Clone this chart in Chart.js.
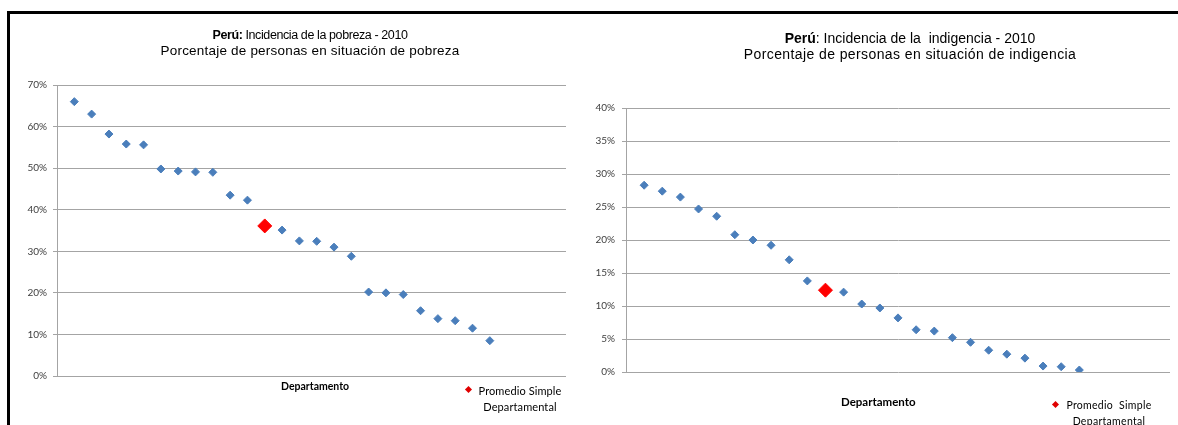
<!DOCTYPE html>
<html>
<head>
<meta charset="utf-8">
<script src="https://cdn.jsdelivr.net/npm/chart.js@4.4.1/dist/chart.umd.min.js"></script>
<style>
  html, body { margin: 0; padding: 0; background: #fff; }
  #wrap { position: relative; width: 1178px; height: 425px; overflow: hidden; background: #fff; }
  .frame-top  { position: absolute; left: 7px; top: 11px; width: 1171px; height: 3px; background: #000; }
  .frame-left { position: absolute; left: 7px; top: 11px; width: 3px; height: 414px; background: #000; }
  canvas { position: absolute; top: 0; }
  .title { position: absolute; text-align: center; font-family: 'Liberation Sans', Arial, sans-serif; color: #000; white-space: pre; }
  .axis-title { position: absolute; font-family: Lato, 'Open Sans', sans-serif; font-weight: bold; color: #000; white-space: pre; }
  .legend { position: absolute; font-family: Lato, 'Open Sans', sans-serif; color: #000; text-align: center; white-space: pre; }
  .diamond { position: absolute; width: 5px; height: 5px; background: #e00000; transform: rotate(45deg); }
</style>
</head>
<body>
<div id="wrap">
  <canvas id="chartPobreza" width="580" height="425" style="left:0;width:580px;height:425px"></canvas>
  <canvas id="chartIndigencia" width="598" height="425" style="left:580px;width:598px;height:425px"></canvas>

  <div class="frame-top"></div>
  <div class="frame-left"></div>

  <!-- títulos -->
  <div class="title" style="left:110px;width:400px;top:28px;font-size:12.5px;line-height:15px;letter-spacing:-0.4px"><b>Perú:</b> Incidencia de la pobreza - 2010</div>
  <div class="title" style="left:110px;width:400px;top:43px;font-size:13.5px;line-height:15px;letter-spacing:0.2px">Porcentaje de personas en situación de pobreza</div>
  <div class="title" style="left:710px;width:400px;top:30px;font-size:14px;line-height:16px"><b>Perú</b>: Incidencia de la  indigencia - 2010</div>
  <div class="title" style="left:710px;width:400px;top:46px;font-size:14px;line-height:16px;letter-spacing:0.4px">Porcentaje de personas en situación de indigencia</div>

  <div class="axis-title" style="left:281px;top:380px;font-size:10.5px">Departamento</div>
  <div class="axis-title" style="left:841px;top:395px;font-size:11.5px">Departamento</div>

  <div class="diamond" style="left:466px;top:387px"></div>
  <div class="legend" style="left:472px;top:383px;width:96px;font-size:11px;line-height:16px;letter-spacing:0.1px">Promedio Simple
Departamental</div>
  <div class="diamond" style="left:1053px;top:402px"></div>
  <div class="legend" style="left:1054px;top:397px;width:110px;font-size:10.5px;line-height:16px;letter-spacing:0.3px">Promedio  Simple
Departamental</div>
</div>

<script>
'use strict';

// ── Data (%) ─────────────────────────────────────────────
const pobrezaValues = [66.0, 63.0, 58.2, 55.8, 55.6, 49.8, 49.3, 49.1, 49.0, 43.5, 42.3,
                       35.1, 32.5, 32.4, 31.0, 28.8, 20.2, 20.0, 19.6, 15.7, 13.8, 13.3, 11.5, 8.5];
const pobrezaPromedio = 36.1;
const pobrezaPromedioPos = 12;      // puesto del promedio en la secuencia
const pobrezaTicks = [0, 10, 20, 30, 40, 50, 60, 70];

const indigenciaValues = [28.3, 27.4, 26.5, 24.7, 23.6, 20.8, 20.0, 19.2, 17.0, 13.8,
                          12.1, 10.3, 9.7, 8.2, 6.4, 6.2, 5.2, 4.5, 3.3, 2.7, 2.1, 0.9, 0.8, 0.3];
const indigenciaPromedio = 12.4;
const indigenciaPromedioPos = 11;
const indigenciaTicks = [0, 5, 10, 15, 20, 25, 30, 35, 40];

// ── Style ────────────────────────────────────────────────
const BLUE = '#4a7ebb';
const RED = '#ff0000';
const GRID = '#a4a4a4';
const TICK_FONT = { family: "Lato, 'Open Sans', sans-serif", size: 10 };

// departamentos ocupan los puestos 1..25 saltando el del promedio
function toPoints(values, skipPos) {
  const pts = [];
  let pos = 1;
  values.forEach(v => {
    if (pos === skipPos) pos++;
    pts.push({ x: pos, y: v });
    pos++;
  });
  return pts;
}

function buildChart(id, values, promedio, promedioPos, ticks, cfg) {
  return new Chart(document.getElementById(id), {
    type: 'scatter',
    data: {
      datasets: [
        {
          data: [{ x: promedioPos, y: promedio }],
          backgroundColor: RED,
          borderColor: RED,
          borderWidth: 1,
          pointStyle: 'rectRot',
          pointRadius: 7,
          order: 0
        },
        {
          data: toPoints(values, promedioPos),
          backgroundColor: BLUE,
          borderColor: BLUE,
          borderWidth: 1,
          pointStyle: 'rectRot',
          pointRadius: 4,
          order: 1
        }
      ]
    },
    options: {
      responsive: false,
      animation: false,
      layout: { padding: cfg.padding },
      plugins: { legend: { display: false }, tooltip: { enabled: false } },
      scales: {
        x: { type: 'linear', min: 0, max: cfg.xMax, display: false },
        y: {
          min: ticks[0],
          max: ticks[ticks.length - 1],
          afterBuildTicks: s => { s.ticks = ticks.map(v => ({ value: v })); },
          afterFit: s => { s.width = cfg.axisWidth; },
          grid: { color: GRID, lineWidth: 1, tickLength: 4, drawTicks: true },
          border: { color: GRID, width: 1 },
          ticks: {
            font: TICK_FONT,
            color: '#404040',
            padding: cfg.tickPad,
            callback: v => v + '%'
          }
        }
      }
    }
  });
}

buildChart('chartPobreza', pobrezaValues, pobrezaPromedio, pobrezaPromedioPos, pobrezaTicks, {
  padding: { top: 85, bottom: 49, left: 0, right: 14 },
  axisWidth: 57, tickPad: 6, xMax: 29.4
});

buildChart('chartIndigencia', indigenciaValues, indigenciaPromedio, indigenciaPromedioPos, indigenciaTicks, {
  padding: { top: 108, bottom: 53, left: 0, right: 7 },
  axisWidth: 46, tickPad: 7, xMax: 30
});
</script>
</body>
</html>
